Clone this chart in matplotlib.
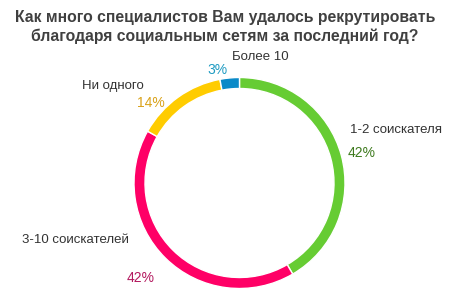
import matplotlib
matplotlib.use("Agg")
import matplotlib.pyplot as plt

categories = ["1-2 соискателя", "3-10 соискателей", "Ни одного", "Более 10"]
values = [42, 42, 14, 3]
colors = ["#66CC33", "#FF0066", "#FFCC00", "#0A8AC8"]
pct_colors = ["#3E7A1E", "#B3185E", "#D9A21A", "#1E9BC2"]
title = "Как много специалистов Вам удалось рекрутировать\nблагодаря социальным сетям за последний год?"

plt.rcParams['font.family'] = ['Liberation Sans', 'DejaVu Sans']
fig = plt.figure(figsize=(4.5, 3.0), dpi=100)
ax = fig.add_axes([0, 0, 1, 1])

cx, cy, r = 239.5, 300 - 183, 105.5
ax.pie(values, colors=colors, center=(cx, cy), radius=r, startangle=90,
       counterclock=False,
       wedgeprops=dict(width=11, edgecolor='white', linewidth=1))
ax.set_xlim(0, 450)
ax.set_ylim(0, 300)
ax.set_aspect('equal')
ax.axis('off')

fig.text(0.5, 1 - 27/300, title, ha='center', va='center', fontsize=11.3,
         fontweight='bold', color='#404040', linespacing=1.35)

# label positions (pixel coords, top-left origin)
name_pos = [(350, 130, 'left'), (22, 240, 'left'), (82, 86, 'left'), (232, 57, 'left')]
pct_pos = [(348, 153, 'left'), (127, 278, 'left'), (137, 103, 'left'), (207, 70, 'left')]
for i, cat in enumerate(categories):
    x, y, ha = name_pos[i]
    ax.text(x, 300 - y, cat, ha=ha, va='center', fontsize=9.5, color='#333333')
    x, y, ha = pct_pos[i]
    ax.text(x, 300 - y, f"{values[i]}%", ha=ha, va='center', fontsize=10,
            color=pct_colors[i])

fig.savefig("out.png", dpi=100, facecolor='white')
